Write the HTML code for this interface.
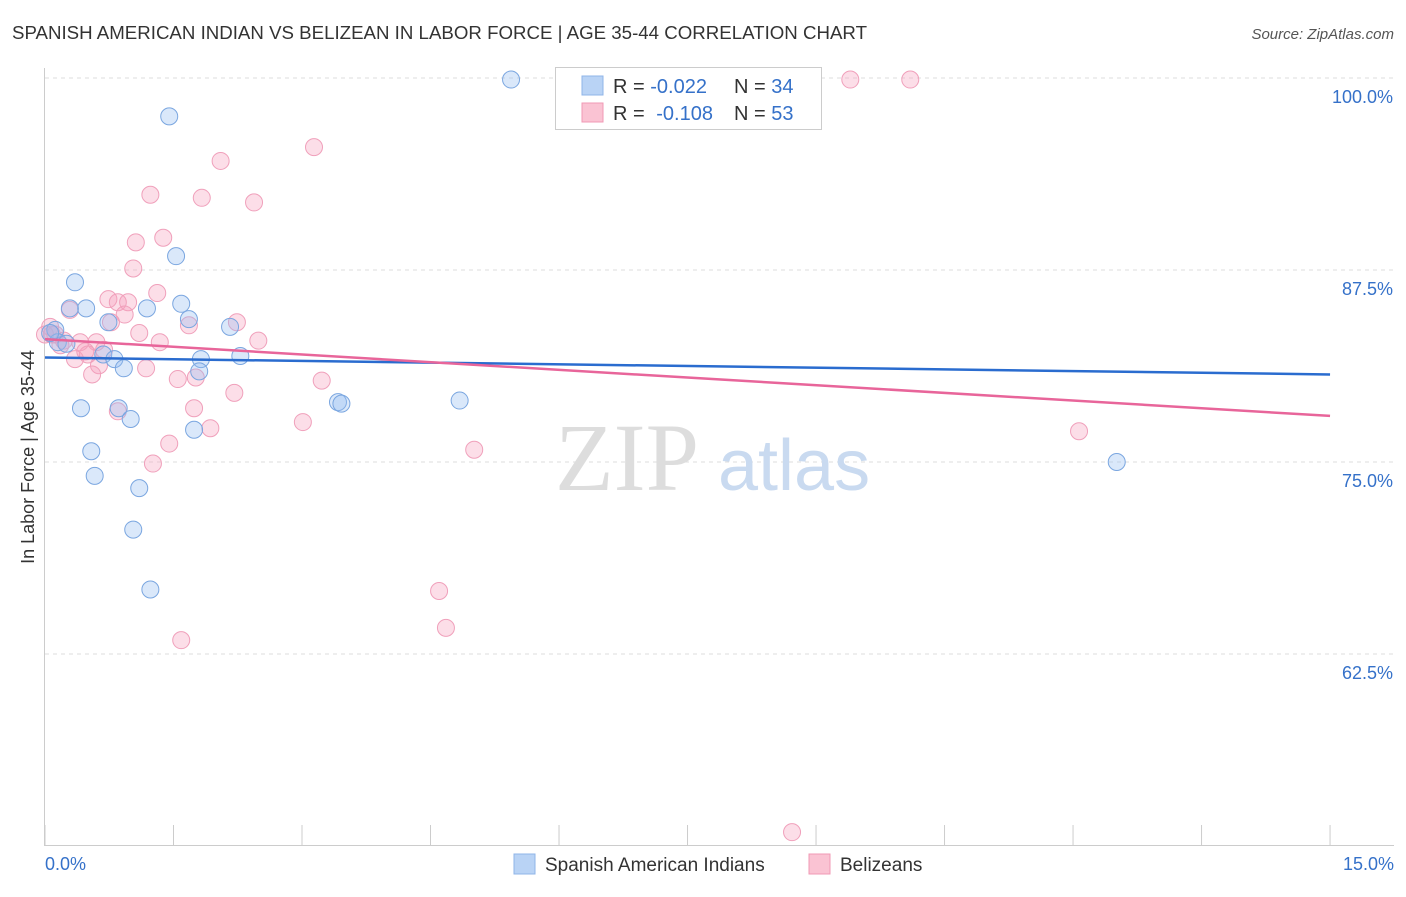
<!DOCTYPE html>
<html><head><meta charset="utf-8">
<style>
body{margin:0;background:#fff;font-family:"Liberation Sans",sans-serif;}
#wrap{position:relative;width:1406px;height:892px;}
</style></head>
<body>
<div id="wrap">
<svg id="chart" width="1406" height="892" xmlns="http://www.w3.org/2000/svg">
<text x="12" y="39" font-size="18" fill="#333" textLength="855" lengthAdjust="spacingAndGlyphs">SPANISH AMERICAN INDIAN VS BELIZEAN IN LABOR FORCE | AGE 35-44 CORRELATION CHART</text>
<text x="1394" y="39" font-size="15" fill="#555" font-style="italic" text-anchor="end">Source: ZipAtlas.com</text>
<text transform="translate(34,457) rotate(-90)" font-size="18" fill="#333" text-anchor="middle">In Labor Force | Age 35-44</text>
<g id="grid"></g>
<text x="555" y="490" font-size="96" fill="#ddd" font-family="Liberation Serif,serif">ZIP</text>
<text x="718" y="490" font-size="72" fill="#c9daf0">atlas</text>
<g id="pts"></g>
<g id="lines"></g>
<g>
<rect x="555.5" y="67.5" width="266" height="62" fill="#fff" stroke="#ccc"/>
<rect x="582" y="76" width="21" height="19" fill="#b9d3f5" stroke="#8fb4e8"/>
<rect x="582" y="103" width="21" height="19" fill="#fac3d3" stroke="#f09ab5"/>
<text x="613" y="93" font-size="20" fill="#333">R = <tspan fill="#3571c9">-0.022</tspan><tspan x="734">N = </tspan><tspan fill="#3571c9">34</tspan></text>
<text x="613" y="120" font-size="20" fill="#333">R = <tspan fill="#3571c9" dx="6">-0.108</tspan><tspan x="734">N = </tspan><tspan fill="#3571c9">53</tspan></text>
</g>
<g>
<rect x="514" y="854" width="21" height="20" fill="#b9d3f5" stroke="#8fb4e8"/>
<text x="545" y="871" font-size="19" fill="#333">Spanish American Indians</text>
<rect x="809" y="854" width="21" height="20" fill="#fac3d3" stroke="#f09ab5"/>
<text x="840" y="871" font-size="19" fill="#333">Belizeans</text>
</g>
</svg>
</div>
<script>
const blueX=[5.44,1.45,1.53,0.35,0.48,0.29,1.19,1.59,0.74,1.68,2.16,0.12,0.15,0.25,0.68,0.81,1.82,2.28,0.92,1.80,0.42,0.86,1.00,3.42,3.46,4.84,1.74,0.54,0.58,1.10,1.03,1.23,12.51,0.06];
const blueY=[99.9,97.5,88.4,86.7,85.0,85.0,85.0,85.3,84.1,84.3,83.8,83.6,82.8,82.7,82.0,81.7,81.7,81.9,81.1,80.9,78.5,78.5,77.8,78.9,78.8,79.0,77.1,75.7,74.1,73.3,70.6,66.7,75.0,83.4];
const pinkX=[9.40,10.10,3.14,2.05,1.23,1.83,2.44,1.38,1.06,1.03,1.31,0.74,0.85,0.97,0.29,0.93,0.77,2.24,1.68,1.10,2.49,1.34,0.12,0.22,0.41,0.60,0.69,0.50,0.35,0.63,1.18,0.55,1.55,1.76,3.23,2.21,1.74,3.01,1.93,1.45,1.26,5.01,12.07,4.60,4.68,1.59,8.72,0.06,0.08,0.18,0.85,0.47,0.0];
const pinkY=[99.9,99.9,95.5,94.6,92.4,92.2,91.9,89.6,89.3,87.6,86.0,85.6,85.4,85.4,84.9,84.6,84.1,84.1,83.9,83.4,82.9,82.8,83.3,82.9,82.8,82.8,82.3,82.0,81.7,81.3,81.1,80.7,80.4,80.5,80.3,79.5,78.5,77.6,77.2,76.2,74.9,75.8,77.0,66.6,64.2,63.4,50.9,83.8,83.3,82.6,78.3,82.2,83.3];
const blueLine=[81.8,80.7];
const pinkLine=[83.0,78.0];
const yTicks=[100,87.5,75,62.5];
const xTicks=[0,1.5,3,4.5,6,7.5,9,10.5,12,13.5,15];
const NS="http://www.w3.org/2000/svg";
const sx=v=>45+v*85.67, sy=v=>78+(100-v)*15.36;
function mk(t,a,p){const e=document.createElementNS(NS,t);for(const k in a)e.setAttribute(k,a[k]);p.appendChild(e);return e;}
const grid=document.getElementById('grid');
const ax=mk('line',{x1:44.5,y1:68,x2:44.5,y2:845,stroke:'#ccc'},grid);


const bx=mk('line',{x1:44,y1:845.5,x2:1394,y2:845.5,stroke:'#ccc'},grid);


yTicks.forEach(v=>{
 const g=mk('line',{x1:45,y1:sy(v),x2:1394,y2:sy(v),stroke:'#ddd','stroke-dasharray':'4,4'},grid);
 
 
 const t=mk('text',{x:1393,y:sy(v)+25,'font-size':18,fill:'#3571c9','text-anchor':'end'},grid);
 t.textContent=v.toFixed(1)+'%';
 
 
});
xTicks.forEach(v=>{
 const l=mk('line',{x1:sx(v),y1:825,x2:sx(v),y2:845,stroke:'#ccc'},grid);
 
 
});
[[0,'start',45],[15,'end',1394]].forEach(([v,a,x])=>{
 const t=mk('text',{x:x,y:870,'font-size':18,fill:'#3571c9','text-anchor':a},grid);
 t.textContent=v.toFixed(1)+'%';
 
 
});
const pts=document.getElementById('pts');
pinkX.forEach((x,i)=>{
 const c=mk('circle',{cx:sx(x),cy:sy(pinkY[i]),r:8.5,fill:'rgba(246,160,190,0.35)',stroke:'#f0a0bb','stroke-width':1},pts);
 
 
});
blueX.forEach((x,i)=>{
 const c=mk('circle',{cx:sx(x),cy:sy(blueY[i]),r:8.5,fill:'rgba(150,190,240,0.35)',stroke:'#7aa6e0','stroke-width':1},pts);
 
 
});
const lines=document.getElementById('lines');
const bl=mk('line',{x1:sx(0),y1:sy(blueLine[0]),x2:sx(15),y2:sy(blueLine[1]),stroke:'#2a6ccf','stroke-width':2.5},lines);


const pl=mk('line',{x1:sx(0),y1:sy(pinkLine[0]),x2:sx(15),y2:sy(pinkLine[1]),stroke:'#e8659a','stroke-width':2.5},lines);


</script>
</body></html>
